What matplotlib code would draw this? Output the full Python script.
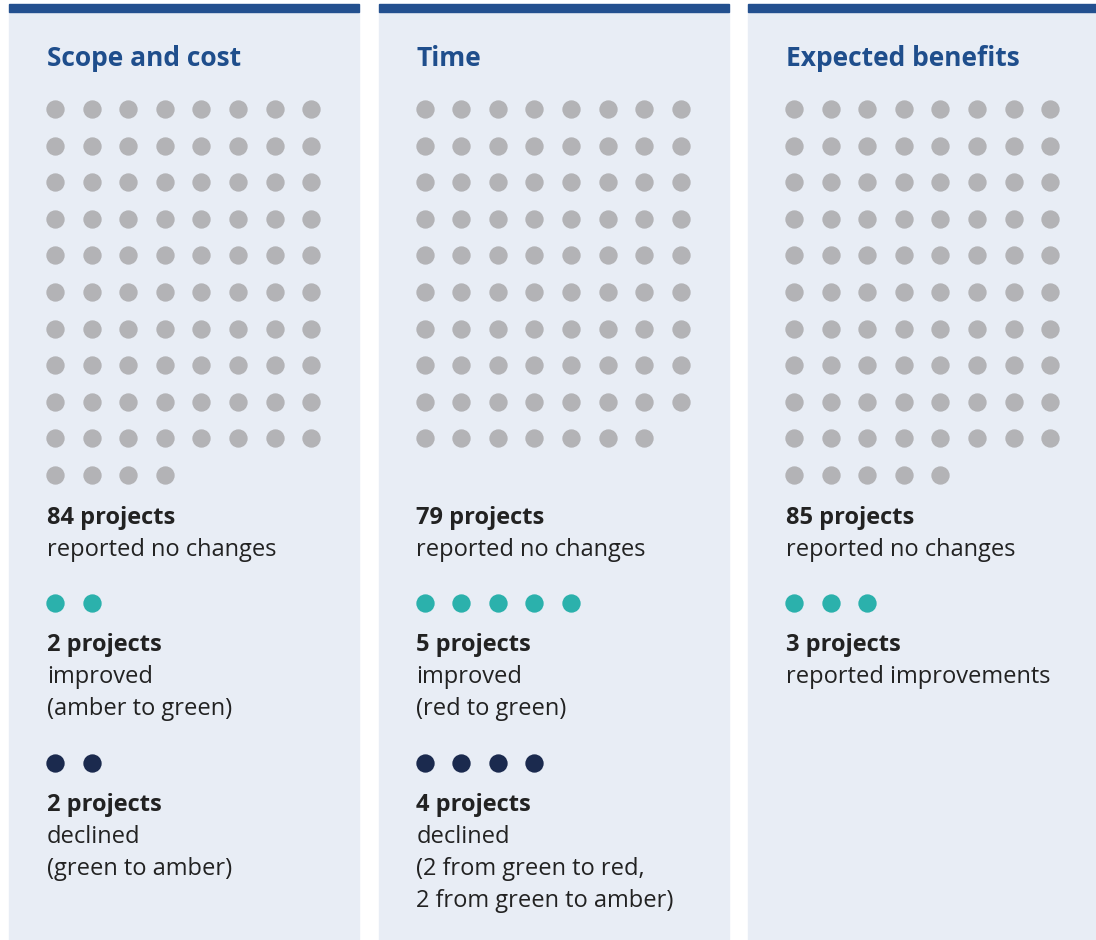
import matplotlib.pyplot as plt
from matplotlib.patches import Rectangle

# Data
panels = ["Scope and cost", "Time", "Expected benefits"]
no_change = [84, 79, 85]
improved = [2, 5, 3]
declined = [2, 4, 0]
improved_text = [["improved", "(amber to green)"],
                 ["improved", "(red to green)"],
                 ["reported improvements"]]
declined_text = [["declined", "(green to amber)"],
                 ["declined", "(2 from green to red,", "2 from green to amber)"],
                 []]

# Colours
BG = "#e8edf5"
BAR = "#23508f"
TITLE = "#1f4e8c"
GREY = "#b3b3b6"
TEAL = "#2bb1ac"
NAVY = "#1b2a4e"
TXT = "#222222"

W, H = 1096, 940
fig = plt.figure(figsize=(W / 100, H / 100), dpi=100)
ax = fig.add_axes([0, 0, 1, 1])
ax.set_xlim(0, W)
ax.set_ylim(H, 0)
ax.axis("off")

FONT = "Open Sans"
FS = 17
STEP = 36.6
DOT_S = 13.2 ** 2

for i, name in enumerate(panels):
    x0 = 9 + i * 369.5
    ax.add_patch(Rectangle((x0, 12), 350, H, color=BG, zorder=0))
    ax.add_patch(Rectangle((x0, 4), 350, 8, color=BAR, zorder=1))
    lx = x0 + 38
    ax.text(lx, 59, name, fontsize=19, fontweight="bold", color=TITLE,
            family=FONT, va="center", ha="left")

    # grey grid of unchanged projects
    n = no_change[i]
    xs = [lx + 8 + (k % 8) * STEP for k in range(n)]
    ys = [109 + (k // 8) * STEP for k in range(n)]
    ax.scatter(xs, ys, s=DOT_S, color=GREY, lw=0, zorder=2)
    ax.text(lx, 518, f"{no_change[i]} projects", fontsize=FS, fontweight="bold",
            color=TXT, family=FONT, va="center")
    ax.text(lx, 550, "reported no changes", fontsize=FS, color=TXT,
            family=FONT, va="center")

    # improved
    k = improved[i]
    ax.scatter([lx + 8 + j * STEP for j in range(k)], [603] * k, s=DOT_S,
               color=TEAL, lw=0, zorder=2)
    ax.text(lx, 645, f"{k} projects", fontsize=FS, fontweight="bold",
            color=TXT, family=FONT, va="center")
    for j, line in enumerate(improved_text[i]):
        ax.text(lx, 677 + j * 32, line, fontsize=FS, color=TXT,
                family=FONT, va="center")

    # declined
    k = declined[i]
    if k:
        ax.scatter([lx + 8 + j * STEP for j in range(k)], [763] * k, s=DOT_S,
                   color=NAVY, lw=0, zorder=2)
        ax.text(lx, 805, f"{k} projects", fontsize=FS, fontweight="bold",
                color=TXT, family=FONT, va="center")
        for j, line in enumerate(declined_text[i]):
            ax.text(lx, 837 + j * 32, line, fontsize=FS, color=TXT,
                    family=FONT, va="center")

fig.savefig("out.png", dpi=100, facecolor="white")
